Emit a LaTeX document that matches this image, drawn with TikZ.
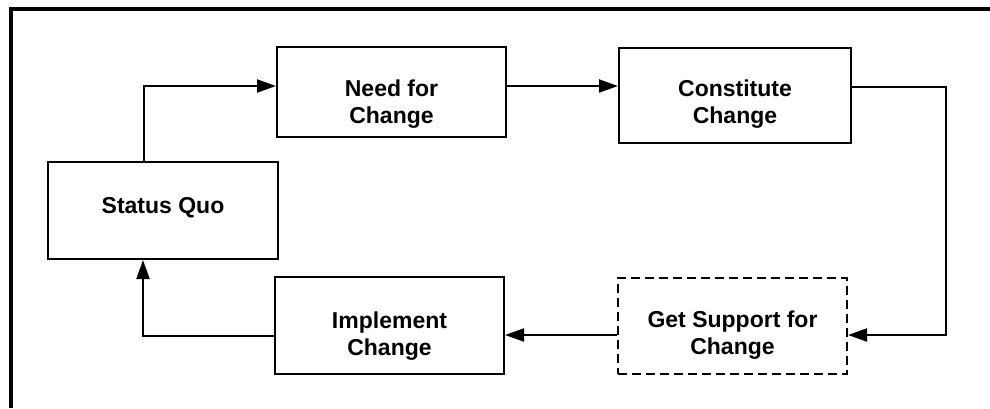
\documentclass[tikz,border=0pt]{standalone}
\usepackage{fontspec}
\setmainfont{Liberation Sans}
\usetikzlibrary{arrows.meta}

\tikzset{
  stagebox/.style={draw=black, line width=2pt, rectangle, inner sep=0pt},
  dashbox/.style={stagebox, dash pattern=on 9pt off 5pt},
  stagetext/.style={align=center, inner sep=0pt,
    font=\fontsize{23}{27}\selectfont\bfseries},
  flow/.style={draw=black, line width=2pt,
    -{Triangle[length=19pt,width=13pt]}},
  frame/.style={draw=black, line width=3.5pt}
}

\begin{document}
\begin{tikzpicture}[x=1pt, y=-1pt]
  \useasboundingbox (0,0) rectangle (990,408);

  % outer frame (top and left edges)
  \coordinate (ftr) at (990,9);
  \coordinate (ftl) at (11,9);
  \coordinate (fbl) at (11,408);
  \draw[frame] (ftr) -- (ftl) -- (fbl);

  % stage boxes
  \node[stagebox, minimum width=230pt, minimum height=97pt] (sq)    at (163,210.5) {};
  \node[stagebox, minimum width=229pt, minimum height=90pt] (need)  at (391.5,92) {};
  \node[stagebox, minimum width=232pt, minimum height=95pt] (const) at (735,95.5) {};
  \node[dashbox,  minimum width=229pt, minimum height=96pt] (supp)  at (732.5,326) {};
  \node[stagebox, minimum width=229pt, minimum height=97pt] (impl)  at (389.5,325.5) {};

  % stage labels
  \node[stagetext, anchor=base] (sqtxt) at (163,213) {Status Quo};
  \node[stagetext] (needtxt)  at (391.5,104) {Need for\\Change};
  \node[stagetext] (consttxt) at (735,104) {Constitute\\Change};
  \node[stagetext] (supptxt)  at (732.5,335) {Get Support for\\Change};
  \node[stagetext] (impltxt)  at (389.5,336) {Implement\\Change};

  % connectors around the cycle
  \draw[flow] ([xshift=-19pt]sq.north) |- ([yshift=6pt]need.west);

  \coordinate (a2) at ([yshift=6pt]need.east);
  \draw[flow] (a2) -- (a2 -| const.west);

  \draw[flow] ([yshift=8.5pt]const.east) -- ++(94,0) |- ([yshift=-9pt]supp.east);

  \coordinate (a4) at ([yshift=-9pt]supp.west);
  \draw[flow] (a4) -- (a4 -| impl.east);

  \draw[flow] ([yshift=-10.5pt]impl.west) -| ([xshift=-20pt]sq.south);
\end{tikzpicture}
\end{document}
